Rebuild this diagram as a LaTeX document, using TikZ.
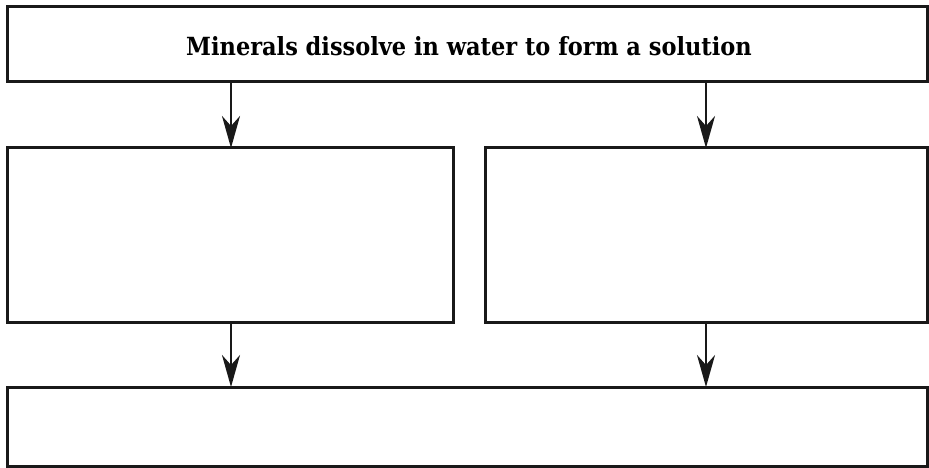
\documentclass[tikz,border=0pt]{standalone}
\usepackage{fontspec}
\setmainfont{DejaVu Serif Condensed}
\usetikzlibrary{arrows.meta}
\begin{document}
\begin{tikzpicture}[x=1pt,y=-1pt,
  box/.style={draw=black!90, line width=3pt, fill=white, inner sep=0pt, outer sep=0pt},
  conn/.style={draw=black!90, line width=2.2pt, -{Stealth[length=32pt,width=18pt,inset=10pt]}}]
\useasboundingbox (0,0) rectangle (929,468);
\fill[white] (0,0) rectangle (929,468);
\node[box, minimum width=920pt, minimum height=75pt, anchor=north west] (top) at (7,7) {};
\node[font=\bfseries\fontsize{25}{28}\selectfont] (t) at (469,46) {Minerals dissolve in water to form a solution};
\node[box, minimum width=446pt, minimum height=174pt, anchor=north west] (ml) at (7,148) {};
\node[box, minimum width=442pt, minimum height=174pt, anchor=north west] (mr) at (485,148) {};
\node[box, minimum width=920pt, minimum height=79pt, anchor=north west] (bot) at (7,387) {};
\coordinate (a1) at (231,82);
\coordinate (a2) at (706,82);
\coordinate (b1) at (231,322);
\coordinate (b2) at (706,322);
\draw[conn] (a1) -- (a1 |- ml.north);
\draw[conn] (a2) -- (a2 |- mr.north);
\draw[conn] (b1) -- (b1 |- bot.north);
\draw[conn] (b2) -- (b2 |- bot.north);
\end{tikzpicture}
\end{document}
